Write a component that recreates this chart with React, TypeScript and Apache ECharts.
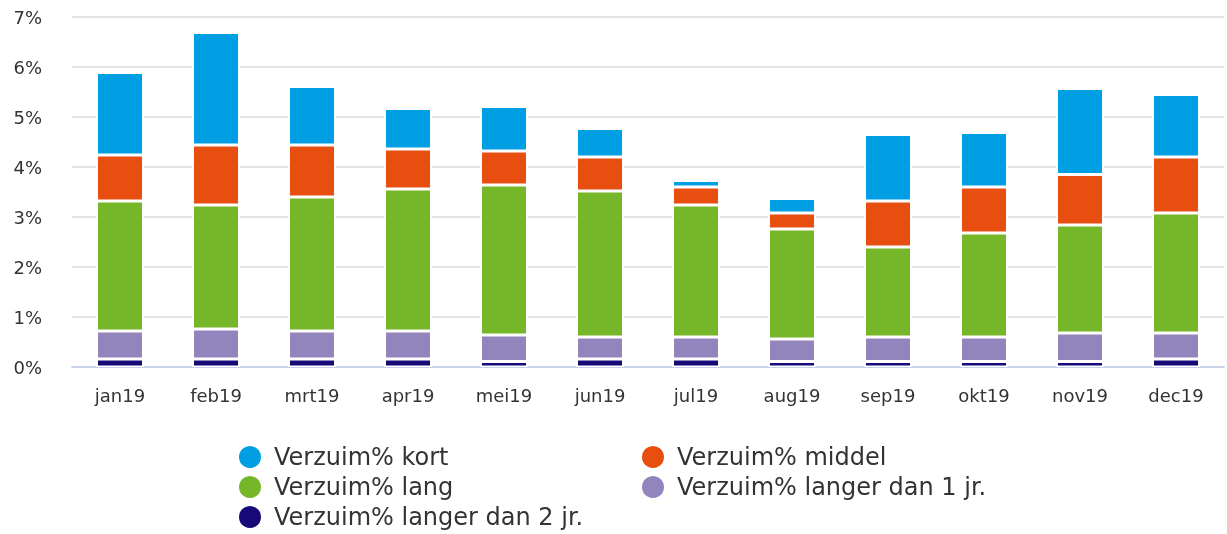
import React, { useEffect, useRef } from "react";
import * as echarts from "echarts";

const categories = ["jan19", "feb19", "mrt19", "apr19", "mei19", "jun19", "jul19", "aug19", "sep19", "okt19", "nov19", "dec19"];
const langer2 = [0.16, 0.16, 0.16, 0.16, 0.11, 0.16, 0.16, 0.11, 0.11, 0.11, 0.11, 0.16];
const langer1 = [0.56, 0.60, 0.56, 0.56, 0.53, 0.44, 0.44, 0.45, 0.49, 0.49, 0.57, 0.52];
const lang = [2.60, 2.48, 2.68, 2.84, 3.00, 2.92, 2.64, 2.20, 1.80, 2.08, 2.16, 2.40];
const middel = [0.92, 1.20, 1.04, 0.80, 0.68, 0.68, 0.36, 0.32, 0.92, 0.92, 1.01, 1.12];
const kort = [1.65, 2.25, 1.17, 0.81, 0.89, 0.57, 0.13, 0.29, 1.33, 1.09, 1.72, 1.25];
const yTicks = [0, 1, 2, 3, 4, 5, 6, 7];

const names = {
  kort: "Verzuim% kort",
  middel: "Verzuim% middel",
  lang: "Verzuim% lang",
  l1: "Verzuim% langer dan 1 jr.",
  l2: "Verzuim% langer dan 2 jr.",
};

const colors = {
  kort: "#009FE3",
  middel: "#E84E10",
  lang: "#76B72A",
  l1: "#9285BE",
  l2: "#170A78",
};

const FONT = "'DejaVu Sans', Verdana, sans-serif";

export default function App() {
  const ref = useRef<HTMLDivElement>(null);
  useEffect(() => {
    if (!ref.current) return;
    const chart = echarts.init(ref.current, null, { renderer: "svg" });
    const mk = (name: string, data: number[], color: string) => ({
      name,
      type: "bar",
      stack: "total",
      data,
      barWidth: "49%",
      itemStyle: { color, borderColor: "#ffffff", borderWidth: 1.5 },
    });
    const legendCommon = {
      orient: "vertical",
      icon: "circle",
      itemWidth: 38,
      itemHeight: 24,
      itemGap: 4,
      padding: 0,
      height: 120,
      symbolKeepAspect: true,
      textStyle: { fontSize: 24, color: "#333333", fontFamily: FONT },
      selectedMode: false,
    };
    chart.setOption({
      animation: false,
      textStyle: { fontFamily: FONT },
      grid: { left: 72, right: 3, top: 17, bottom: 167, containLabel: false },
      legend: [
        { ...legendCommon, left: 237, top: 444, data: [names.kort, names.lang, names.l2] },
        { ...legendCommon, left: 640, top: 444, data: [names.middel, names.l1] },
      ],
      xAxis: {
        type: "category",
        data: categories,
        axisLine: { lineStyle: { color: "#C9D3E8", width: 2 } },
        axisTick: { length: 18, lineStyle: { color: "#C9D3E8", width: 2 } },
        axisLabel: { fontSize: 18, color: "#333333", margin: 19, fontFamily: FONT },
      },
      yAxis: {
        type: "value",
        min: 0,
        max: 7,
        interval: 1,
        axisLine: { show: false },
        axisTick: { show: false },
        splitLine: { lineStyle: { color: "#E3E3E3", width: 2 } },
        axisLabel: {
          fontSize: 18,
          color: "#333333",
          margin: 30,
          fontFamily: FONT,
          formatter: (v: number) => (yTicks.includes(v) ? v + "%" : ""),
        },
      },
      series: [
        mk(names.l2, langer2, colors.l2),
        mk(names.l1, langer1, colors.l1),
        mk(names.lang, lang, colors.lang),
        mk(names.middel, middel, colors.middel),
        mk(names.kort, kort, colors.kort),
      ],
    });
    return () => chart.dispose();
  }, []);
  return (
    <div
      ref={ref}
      style={{ position: "fixed", left: 0, top: 0, width: 1227, height: 534 }}
    />
  );
}
